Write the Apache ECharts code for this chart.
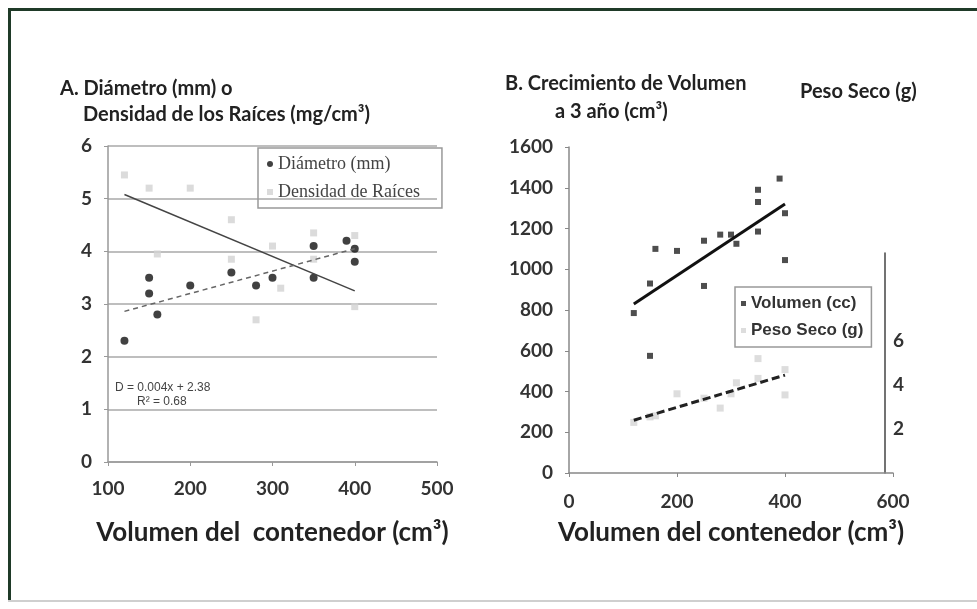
<!DOCTYPE html>
<html>
<head>
<meta charset="utf-8">
<script src="https://cdn.jsdelivr.net/npm/echarts@6/dist/echarts.min.js"></script>
<style>
  html, body { margin: 0; padding: 0; background: #fff; }
  #main { width: 977px; height: 609px; }
</style>
</head>
<body>
<div id="main"></div>
<script>
// Panel A: diámetro y densidad de raíces vs volumen del contenedor
const diametro = [[120, 2.3], [150, 3.5], [150, 3.2], [160, 2.8], [200, 3.35], [250, 3.6], [280, 3.35],
  [300, 3.5], [350, 4.1], [350, 3.5], [390, 4.2], [400, 4.05], [400, 3.8]]
const densidad = [[120, 5.45], [150, 5.2], [160, 3.95], [200, 5.2], [250, 4.6], [250, 3.85], [280, 2.7],
  [300, 4.1], [310, 3.3], [350, 3.85], [350, 4.35], [400, 4.3], [400, 2.95]]
const diametroTrend = [[120, 2.86], [400, 4.05]]
const densidadTrend = [[120, 5.08], [400, 3.25]]

// Panel B: crecimiento de volumen y peso seco
const volumen = [[120, 785], [150, 930], [150, 575], [160, 1100], [200, 1090], [250, 1140], [250, 918],
  [280, 1170], [300, 1170], [310, 1125], [350, 1330], [350, 1390], [350, 1185], [390, 1445], [400, 1275], [400, 1045]]
const pesoSeco = [[120, 2.3], [150, 2.55], [160, 2.6], [200, 3.6], [250, 3.4], [280, 2.95], [300, 3.6],
  [310, 4.1], [350, 4.3], [350, 5.2], [400, 4.7], [400, 3.55]]
const volumenTrend = [[120, 830], [400, 1320]]
const pesoTrend = [[120, 2.4], [400, 4.45]]

// ejes
const axisA = { xMin: 100, xMax: 500, xStep: 100, yMin: 0, yMax: 6, yStep: 1 }
const axisB = { xMin: 0, xMax: 600, xStep: 200, yMin: 0, yMax: 1600, yStep: 200 }
const pesoAxis = { min: 0, max: 10, step: 2, shown: [2, 4, 6] }

const FONT = 'Lato'
const tickLabel = { fontFamily: FONT, fontWeight: 'bold', fontSize: 19, color: '#333', formatter: v => String(v) }
const titleStyle = { fontFamily: FONT, fontWeight: 'bold', fontSize: 20, fill: '#222' }

const chart = echarts.init(document.getElementById('main'))

chart.setOption({
  backgroundColor: '#ffffff',
  animation: false,
  grid: [
    { left: 108, right: 540, top: 146, bottom: 147 },
    { left: 569, right: 84, top: 147, bottom: 136 },
    { left: 569, right: 84, top: 253, bottom: 136 }
  ],
  legend: [
    {
      data: [{ name: 'Diámetro (mm)', icon: 'circle' }, { name: 'Densidad de Raíces', icon: 'rect' }],
      left: 258, top: 148, orient: 'vertical',
      borderColor: '#999', borderWidth: 1.5, padding: [7, 22, 7, 9], itemGap: 10,
      itemWidth: 6, itemHeight: 6,
      textStyle: { fontFamily: 'Liberation Serif', fontSize: 18, color: '#444' }
    },
    {
      data: [{ name: 'Volumen (cc)', icon: 'rect' }, { name: 'Peso Seco (g)', icon: 'rect' }],
      left: 735, top: 287, orient: 'vertical',
      borderColor: '#999', borderWidth: 1.5, padding: [8, 8, 8, 6], itemGap: 10,
      itemWidth: 5, itemHeight: 5,
      textStyle: { fontFamily: 'Liberation Sans', fontWeight: 'bold', fontSize: 17, color: '#333' }
    }
  ],
  xAxis: [
    {
      gridIndex: 0, type: 'value', min: axisA.xMin, max: axisA.xMax, interval: axisA.xStep,
      axisLine: { lineStyle: { color: '#999', width: 1.5 } },
      axisTick: { show: true, length: 4, lineStyle: { color: '#999' } },
      splitLine: { show: false },
      axisLabel: Object.assign({}, tickLabel, { margin: 17 }),
      name: 'Volumen del  contenedor (cm³)', nameLocation: 'middle', nameGap: 58,
      nameTextStyle: { fontFamily: FONT, fontWeight: 'bold', fontSize: 26, color: '#222', verticalAlign: 'top' }
    },
    {
      gridIndex: 1, type: 'value', min: axisB.xMin, max: axisB.xMax, interval: axisB.xStep,
      axisLine: { lineStyle: { color: '#888', width: 1.5 } },
      axisTick: { show: true, length: 4, lineStyle: { color: '#888' } },
      splitLine: { show: false },
      axisLabel: Object.assign({}, tickLabel, { margin: 19 }),
      name: 'Volumen del contenedor (cm³)', nameLocation: 'middle', nameGap: 47,
      nameTextStyle: { fontFamily: FONT, fontWeight: 'bold', fontSize: 26, color: '#222', verticalAlign: 'top' }
    },
    { gridIndex: 2, type: 'value', min: axisB.xMin, max: axisB.xMax, show: false }
  ],
  yAxis: [
    {
      gridIndex: 0, type: 'value', min: axisA.yMin, max: axisA.yMax, interval: axisA.yStep,
      axisLine: { show: true, lineStyle: { color: '#999', width: 1.5 } },
      axisTick: { show: true, length: 4, lineStyle: { color: '#999' } },
      splitLine: { show: true, lineStyle: { color: '#a8a8a8', width: 1.5 } },
      axisLabel: Object.assign({}, tickLabel, { margin: 16 })
    },
    {
      gridIndex: 1, type: 'value', min: axisB.yMin, max: axisB.yMax, interval: axisB.yStep,
      axisLine: { show: true, lineStyle: { color: '#888', width: 1.5 } },
      axisTick: { show: true, length: 4, lineStyle: { color: '#888' } },
      splitLine: { show: false },
      axisLabel: Object.assign({}, tickLabel, { margin: 16 })
    },
    {
      gridIndex: 2, type: 'value', position: 'right', offset: -8,
      min: pesoAxis.min, max: pesoAxis.max, interval: pesoAxis.step,
      axisLine: { show: true, onZero: false, lineStyle: { color: '#444', width: 1.5 } },
      axisTick: { show: false },
      splitLine: { show: false },
      axisLabel: Object.assign({}, tickLabel, { margin: 8,
        formatter: v => (pesoAxis.shown.indexOf(v) >= 0 ? String(v) : '') })
    }
  ],
  series: [
    {
      name: 'Densidad de Raíces', type: 'scatter', xAxisIndex: 0, yAxisIndex: 0,
      symbol: 'rect', symbolSize: 7, itemStyle: { color: '#d2d2d2' }, data: densidad
    },
    {
      name: 'Diámetro (mm)', type: 'scatter', xAxisIndex: 0, yAxisIndex: 0,
      symbolSize: 8, itemStyle: { color: '#111' }, data: diametro
    },
    {
      name: 'densidad-trend', type: 'line', xAxisIndex: 0, yAxisIndex: 0, symbol: 'none',
      lineStyle: { color: '#444', width: 1.5 }, data: densidadTrend
    },
    {
      name: 'diametro-trend', type: 'line', xAxisIndex: 0, yAxisIndex: 0, symbol: 'none',
      lineStyle: { color: '#666', width: 1.5, type: [5, 4] }, data: diametroTrend
    },
    {
      name: 'Peso Seco (g)', type: 'scatter', xAxisIndex: 2, yAxisIndex: 2,
      symbol: 'rect', symbolSize: 7, itemStyle: { color: '#d4d4d4' }, data: pesoSeco
    },
    {
      name: 'Volumen (cc)', type: 'scatter', xAxisIndex: 1, yAxisIndex: 1,
      symbol: 'rect', symbolSize: 6, itemStyle: { color: '#222' }, data: volumen
    },
    {
      name: 'volumen-trend', type: 'line', xAxisIndex: 1, yAxisIndex: 1, symbol: 'none',
      lineStyle: { color: '#111', width: 3 }, data: volumenTrend
    },
    {
      name: 'peso-trend', type: 'line', xAxisIndex: 2, yAxisIndex: 2, symbol: 'none',
      lineStyle: { color: '#222', width: 3, type: [8, 4] }, data: pesoTrend
    }
  ],
  graphic: [
    // marco verde oscuro
    { type: 'rect', shape: { x: 8, y: 8, width: 969, height: 3 }, style: { fill: '#1f3a28' } },
    { type: 'rect', shape: { x: 8, y: 8, width: 3, height: 594 }, style: { fill: '#1f3a28' } },
    { type: 'rect', shape: { x: 8, y: 600, width: 969, height: 2 }, style: { fill: '#cfcfcf' } },
    // títulos
    { type: 'text', left: 60, top: 79, style: Object.assign({ text: 'A. Diámetro (mm) o' }, titleStyle) },
    { type: 'text', left: 83, top: 105, style: Object.assign({ text: 'Densidad de los Raíces (mg/cm³)' }, titleStyle) },
    { type: 'text', left: 505, top: 74, style: Object.assign({ text: 'B. Crecimiento de Volumen' }, titleStyle) },
    { type: 'text', left: 555, top: 102, style: Object.assign({ text: 'a 3 año (cm³)' }, titleStyle) },
    { type: 'text', left: 800, top: 82, style: Object.assign({ text: 'Peso Seco (g)' }, titleStyle) },
    // ecuación de la tendencia
    { type: 'text', left: 115, top: 382, style: { text: 'D = 0.004x + 2.38', fontFamily: 'Liberation Sans', fontSize: 12, fill: '#444' } },
    { type: 'text', left: 137, top: 396, style: { text: 'R² = 0.68', fontFamily: 'Liberation Sans', fontSize: 12, fill: '#444' } }
  ]
})
</script>
</body>
</html>
